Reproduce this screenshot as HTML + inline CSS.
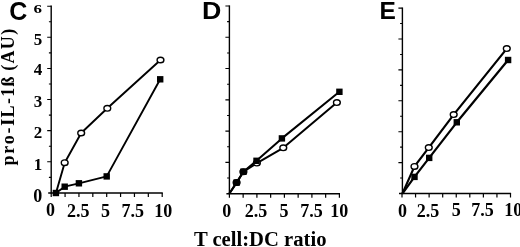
<!DOCTYPE html>
<html><head><meta charset="utf-8"><title>chart</title>
<style>
html,body{margin:0;padding:0;background:#fff;}
body{width:520px;height:247px;overflow:hidden;font-family:"Liberation Serif",serif;}
svg{display:block;will-change:transform;opacity:0.999;filter:blur(0.4px)}
.n{font-family:"Liberation Serif",serif;font-weight:bold;font-size:18px;fill:#000}
.t{font-family:"Liberation Serif",serif;font-weight:bold;font-size:20px;fill:#000}
.yl{font-family:"Liberation Serif",serif;font-weight:bold;font-size:18px;letter-spacing:1.33px;fill:#000}
.L{font-family:"Liberation Sans",sans-serif;font-weight:bold;fill:#000}
</style></head><body>
<svg width="520" height="247" viewBox="0 0 520 247">
<rect width="520" height="247" fill="#fff"/>
<g><path d="M51.20 5.60V193.60" stroke="#000" stroke-width="1.4" fill="none"/><path d="M48.20 192.90H162.80" stroke="#000" stroke-width="1.5" fill="none"/><path d="M48.90 177.34H51.20M47.20 161.78H51.20M48.90 146.22H51.20M47.20 130.67H51.20M48.90 115.11H51.20M47.20 99.55H51.20M48.90 83.99H51.20M47.20 68.43H51.20M48.90 52.88H51.20M47.20 37.32H51.20M48.90 21.76H51.20M47.20 6.20H51.20" stroke="#000" stroke-width="1.1" fill="none"/><path d="M51.20 192.90V197.00M65.08 192.90V197.00M78.95 192.90V197.00M92.82 192.90V197.00M106.70 192.90V197.00M120.57 192.90V197.00M134.45 192.90V197.00M148.32 192.90V197.00M162.20 192.90V197.00" stroke="#000" stroke-width="1.2" fill="none"/><polyline points="55.90,193.00 64.70,186.70 78.90,183.30 106.70,176.40 160.20,79.30" stroke="#000" stroke-width="1.9" fill="none" stroke-linejoin="round"/><polyline points="55.90,193.30 64.70,162.70 81.20,133.00 107.30,108.30 160.50,60.00" stroke="#000" stroke-width="1.9" fill="none" stroke-linejoin="round"/><ellipse cx="64.70" cy="162.70" rx="3.4" ry="2.8" fill="#fff" stroke="#000" stroke-width="1.4"/><ellipse cx="81.20" cy="133.00" rx="3.4" ry="2.8" fill="#fff" stroke="#000" stroke-width="1.4"/><ellipse cx="107.30" cy="108.30" rx="3.4" ry="2.8" fill="#fff" stroke="#000" stroke-width="1.4"/><ellipse cx="160.50" cy="60.00" rx="3.4" ry="2.8" fill="#fff" stroke="#000" stroke-width="1.4"/><rect x="52.70" y="189.80" width="6.4" height="6.4" fill="#000"/><rect x="61.50" y="183.50" width="6.4" height="6.4" fill="#000"/><rect x="75.70" y="180.10" width="6.4" height="6.4" fill="#000"/><rect x="103.50" y="173.20" width="6.4" height="6.4" fill="#000"/><rect x="157.00" y="76.10" width="6.4" height="6.4" fill="#000"/><text x="50.50" y="216.40" class="n" text-anchor="middle">0</text><text x="78.15" y="216.60" class="n" text-anchor="middle">2.5</text><text x="105.50" y="216.80" class="n" text-anchor="middle">5</text><text x="132.85" y="217.20" class="n" text-anchor="middle">7.5</text><text x="163.20" y="217.30" class="n" text-anchor="middle">10</text><text transform="translate(9.3,20.2) scale(1.0,1)" class="L" style="font-size:25px">C</text></g>
<g><path d="M229.40 5.40V194.40" stroke="#000" stroke-width="1.4" fill="none"/><path d="M226.40 193.70H340.00" stroke="#000" stroke-width="1.5" fill="none"/><path d="M227.10 178.06H229.40M225.40 162.42H229.40M227.10 146.77H229.40M225.40 131.13H229.40M227.10 115.49H229.40M225.40 99.85H229.40M227.10 84.21H229.40M225.40 68.57H229.40M227.10 52.93H229.40M225.40 37.28H229.40M227.10 21.64H229.40M225.40 6.00H229.40" stroke="#000" stroke-width="1.1" fill="none"/><path d="M229.40 193.70V197.80M243.15 193.70V197.80M256.90 193.70V197.80M270.65 193.70V197.80M284.40 193.70V197.80M298.15 193.70V197.80M311.90 193.70V197.80M325.65 193.70V197.80M339.40 193.70V197.80" stroke="#000" stroke-width="1.2" fill="none"/><polyline points="229.40,193.50 236.60,182.60 243.40,171.70 256.50,160.80 281.90,138.40 339.40,91.80" stroke="#000" stroke-width="2.0" fill="none" stroke-linejoin="round"/><polyline points="229.40,193.50 236.60,182.60 243.40,171.70 256.90,163.10 283.30,147.80 336.90,102.60" stroke="#000" stroke-width="2.0" fill="none" stroke-linejoin="round"/><ellipse cx="236.60" cy="182.60" rx="3.4" ry="2.8" fill="#000" stroke="#000" stroke-width="1.4"/><ellipse cx="243.40" cy="171.70" rx="3.4" ry="2.8" fill="#000" stroke="#000" stroke-width="1.4"/><ellipse cx="256.90" cy="163.10" rx="3.4" ry="2.8" fill="#fff" stroke="#000" stroke-width="1.4"/><ellipse cx="283.30" cy="147.80" rx="3.4" ry="2.8" fill="#fff" stroke="#000" stroke-width="1.4"/><ellipse cx="336.90" cy="102.60" rx="3.4" ry="2.8" fill="#fff" stroke="#000" stroke-width="1.4"/><rect x="233.40" y="179.40" width="6.4" height="6.4" fill="#000"/><rect x="240.20" y="168.50" width="6.4" height="6.4" fill="#000"/><rect x="253.30" y="157.60" width="6.4" height="6.4" fill="#000"/><rect x="278.70" y="135.20" width="6.4" height="6.4" fill="#000"/><rect x="336.20" y="88.60" width="6.4" height="6.4" fill="#000"/><text x="226.70" y="216.60" class="n" text-anchor="middle">0</text><text x="256.10" y="216.70" class="n" text-anchor="middle">2.5</text><text x="283.90" y="216.80" class="n" text-anchor="middle">5</text><text x="311.40" y="216.90" class="n" text-anchor="middle">7.5</text><text x="339.30" y="216.90" class="n" text-anchor="middle">10</text><text transform="translate(202.0,18.8) scale(1.14,1)" class="L" style="font-size:23.5px">D</text></g>
<g><path d="M402.40 7.50V194.20" stroke="#000" stroke-width="1.4" fill="none"/><path d="M399.00 193.50H511.10" stroke="#000" stroke-width="1.5" fill="none"/><path d="M400.10 178.05H402.40M398.40 162.60H402.40M400.10 147.15H402.40M398.40 131.70H402.40M400.10 116.25H402.40M398.40 100.80H402.40M400.10 85.35H402.40M398.40 69.90H402.40M400.10 54.45H402.40M398.40 39.00H402.40M400.10 23.55H402.40M398.40 8.10H402.40" stroke="#000" stroke-width="1.1" fill="none"/><path d="M402.00 193.50V197.60M415.56 193.50V197.60M429.12 193.50V197.60M442.69 193.50V197.60M456.25 193.50V197.60M469.81 193.50V197.60M483.38 193.50V197.60M496.94 193.50V197.60M510.50 193.50V197.60" stroke="#000" stroke-width="1.2" fill="none"/><polyline points="402.40,193.60 414.50,176.90 429.20,157.90 456.80,122.30 508.10,60.00" stroke="#000" stroke-width="2.2" fill="none" stroke-linejoin="round"/><polyline points="402.40,193.60 414.50,166.40 428.80,147.60 453.70,114.60 506.80,48.60" stroke="#000" stroke-width="2.2" fill="none" stroke-linejoin="round"/><ellipse cx="414.50" cy="166.40" rx="3.4" ry="2.8" fill="#fff" stroke="#000" stroke-width="1.4"/><ellipse cx="428.80" cy="147.60" rx="3.4" ry="2.8" fill="#fff" stroke="#000" stroke-width="1.4"/><ellipse cx="453.70" cy="114.60" rx="3.4" ry="2.8" fill="#fff" stroke="#000" stroke-width="1.4"/><ellipse cx="506.80" cy="48.60" rx="3.4" ry="2.8" fill="#fff" stroke="#000" stroke-width="1.4"/><rect x="411.30" y="173.70" width="6.4" height="6.4" fill="#000"/><rect x="426.00" y="154.70" width="6.4" height="6.4" fill="#000"/><rect x="453.60" y="119.10" width="6.4" height="6.4" fill="#000"/><rect x="504.90" y="56.80" width="6.4" height="6.4" fill="#000"/><text x="402.60" y="216.50" class="n" text-anchor="middle">0</text><text x="428.12" y="216.50" class="n" text-anchor="middle">2.5</text><text x="456.25" y="216.40" class="n" text-anchor="middle">5</text><text x="482.57" y="216.20" class="n" text-anchor="middle">7.5</text><text x="513.20" y="216.20" class="n" text-anchor="middle">10</text><text transform="translate(379.4,18.9) scale(1.0,1)" class="L" style="font-size:24.5px">E</text></g>
<text x="42.2" y="201.50" class="n" style="font-size:18px" text-anchor="end">0</text>
<text x="42.2" y="169.78" class="n" style="font-size:17px" text-anchor="end">1</text>
<text x="42.2" y="138.17" class="n" style="font-size:17px" text-anchor="end">2</text>
<text x="42.2" y="106.85" class="n" style="font-size:17px" text-anchor="end">3</text>
<text x="42.2" y="75.23" class="n" style="font-size:17px" text-anchor="end">4</text>
<text x="42.2" y="44.52" class="n" style="font-size:17px" text-anchor="end">5</text>
<text transform="translate(42,12.60) scale(1,0.77)" class="n" style="font-size:17px" text-anchor="end">6</text>
<text transform="translate(14.2,165.4) rotate(-90)" class="yl" dx="0 0.4 0.4 0.4 0.4 0 0 0 0 0 -1.6 0 0 0">pro-IL-1ß (AU)</text>
<text x="193.9" y="245.5" class="t" textLength="132.6" lengthAdjust="spacingAndGlyphs">T cell:DC ratio</text>
</svg>
</body></html>
